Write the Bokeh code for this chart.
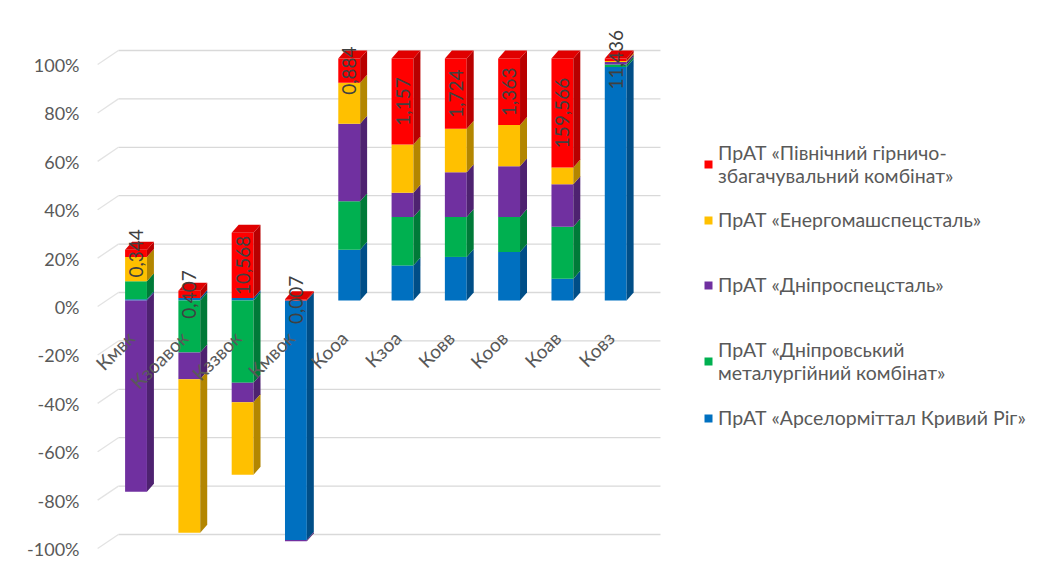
import math
from bokeh.plotting import figure
from bokeh.models import (Range1d, LinearAxis, FixedTicker,
                          PrintfTickFormatter, Legend, LegendItem)
from bokeh.core.properties import value
from bokeh.embed import file_html
from bokeh.resources import INLINE

# ---------------- data (shares of 100 %) ----------------
categories = ["Кмвк", "Кзоавок", "Кззвок", "Кмвок", "Кооа", "Кзоа", "Ковв", "Коов", "Коав", "Ковз"]

arcelor = [0.5, 1.0, 1.0, -99.0, 21.0, 14.5, 18.0, 20.0, 9.0, 96.5]
dmk = [7.5, -21.5, -34.0, 0.0, 20.0, 20.0, 16.5, 14.5, 21.5, 1.0]
dniprospetsstal = [-79.0, -11.0, -8.0, -0.5, 32.0, 10.0, 18.5, 21.0, 17.5, 1.0]
energomash = [10.0, -63.5, -30.0, 0.0, 17.0, 20.0, 18.0, 17.0, 7.0, 0.5]
pivnichnyi = [3.0, 3.0, 27.0, 0.5, 10.0, 35.5, 29.0, 27.5, 45.0, 1.0]

red_labels = ["0,344", "0,407", "10,568", "0,007", "0,884", "1,157", "1,724", "1,363", "159,566", "11,436"]

series_names = [
    "ПрАТ «Арселорміттал Кривий Ріг»",
    "ПрАТ «Дніпровський\nметалургійний комбінат»",
    "ПрАТ «Дніпроспецсталь»",
    "ПрАТ «Енергомашспецсталь»",
    "ПрАТ «Північний гірничо-\nзбагачувальний комбінат»",
]
y_ticks = [-100, -80, -60, -40, -20, 0, 20, 40, 60, 80, 100]

# ---------------- style ----------------
front_colors = ["#0070C0", "#00B050", "#7030A0", "#FFC000", "#FF0000"]
side_colors = ["#004E87", "#007A38", "#4E2270", "#B38600", "#B80000"]
top_colors = ["#005FA3", "#009A45", "#602890", "#E6AD00", "#E00000"]
FONT = "Lato"
BAR_W = 0.41
DX = 0.131   # 3-D depth, x (category units)
DY = 3.3     # 3-D depth, y (percent units)

series = [arcelor, dmk, dniprospetsstal, energomash, pivnichnyi]
n = len(categories)
xs_idx = list(range(n))

p = figure(width=1029, height=564,
           x_range=Range1d(-0.854, 16.764), y_range=Range1d(-105.37, 115.70),
           output_backend="svg", toolbar_location=None,
           x_axis_location=None, y_axis_location=None,
           min_border_left=90, min_border_right=0, min_border_top=20, min_border_bottom=9)
p.outline_line_color = None
p.background_fill_color = "white"
for g in p.grid:
    g.visible = False

# y axis (labels sit slightly below the front-face positions, as in 3-D Excel charts)
p.extra_y_ranges = {"lab": Range1d(-105.37 + 2.69, 115.70 + 2.69)}
yax = LinearAxis(y_range_name="lab", ticker=FixedTicker(ticks=y_ticks),
                 formatter=PrintfTickFormatter(format="%d%%"))
yax.axis_line_color = None
yax.major_tick_line_color = None
yax.minor_tick_line_color = None
yax.major_label_standoff = 5
yax.major_label_text_font = FONT
yax.major_label_text_font_size = "18px"
yax.major_label_text_color = "#595959"
p.add_layout(yax, "left")

# back-wall gridlines + floor diagonals
grid_y = [t + DY for t in y_ticks]
p.segment(x0=[-0.33] * len(y_ticks), y0=grid_y, x1=[9.84] * len(y_ticks), y1=grid_y,
          line_color="#d9d9d9", line_width=1.3)
p.segment(x0=[-0.72] * len(y_ticks), y0=[t - 2.5 for t in y_ticks],
          x1=[-0.33] * len(y_ticks), y1=grid_y, line_color="#e3e3e3", line_width=1.3)

# stacking
pos = [0.0] * n
neg = [0.0] * n
segs = []
for s, vals in enumerate(series):
    rows = []
    for i, v in enumerate(vals):
        if v >= 0:
            b, t = pos[i], pos[i] + v
            pos[i] = t
        else:
            b, t = neg[i] + v, neg[i]
            neg[i] = b
        rows.append((i, b, t))
    segs.append(rows)

front_renderers = []
for s, rows in enumerate(segs):
    left = [i - BAR_W / 2 for i, b, t in rows]
    right = [i + BAR_W / 2 for i, b, t in rows]
    bottom = [b for i, b, t in rows]
    top = [t for i, b, t in rows]
    r = p.quad(left=left, right=right, bottom=bottom, top=top,
               fill_color=front_colors[s], line_color=None)
    front_renderers.append(r)
    side_xs = [[i + BAR_W / 2, i + BAR_W / 2 + DX, i + BAR_W / 2 + DX, i + BAR_W / 2] for i, b, t in rows]
    side_ys = [[b, b + DY, t + DY, t] for i, b, t in rows]
    p.patches(xs=side_xs, ys=side_ys, fill_color=side_colors[s], line_color=None)

# top faces of the top-most positive segment of each bar
top_xs, top_ys, top_c = [], [], []
for i in range(n):
    best = None
    for s, rows in enumerate(segs):
        _, b, t = rows[i]
        if t > b and abs(t - pos[i]) < 1e-9:
            best = (s, t)
    if best is not None:
        s, t = best
        top_xs.append([i - BAR_W / 2, i - BAR_W / 2 + DX, i + BAR_W / 2 + DX, i + BAR_W / 2])
        top_ys.append([t, t + DY, t + DY, t])
        top_c.append(top_colors[s])
p.patches(xs=top_xs, ys=top_ys, fill_color=top_c, line_color=None)

# data labels of the red series
lab_y = [(b + t) / 2 for i, b, t in segs[4]]
p.text(x=xs_idx, y=lab_y, text=red_labels, angle=math.pi / 2,
       text_align="center", text_baseline="middle",
       text_font=value(FONT), text_font_size="19px", text_color="#404040")

# category labels along the zero line
p.text(x=xs_idx, y=[0] * n, text=categories, angle=math.pi / 4,
       x_offset=-5, y_offset=34, text_align="right", text_baseline="middle",
       text_font=value(FONT), text_font_size="19px", text_color="#595959")

# legend: one entry per box so the uneven Excel spacing can be kept
order = [4, 3, 2, 1, 0]
legend_pos = {4: (613, 368), 3: (613, 324), 2: (613, 259), 1: (613, 171), 0: (613, 126)}
for s in order:
    lg = Legend(items=[LegendItem(label=series_names[s], renderers=[front_renderers[s]])],
                location=legend_pos[s])
    lg.label_text_font = FONT
    lg.label_text_font_size = "19.5px"
    lg.label_text_line_height = 1.6
    lg.label_text_color = "#595959"
    lg.glyph_width = 10
    lg.glyph_height = 10
    lg.padding = 0
    lg.margin = 0
    lg.label_standoff = 5
    lg.border_line_color = None
    lg.background_fill_alpha = 0
    p.add_layout(lg)

open("out.html", "w").write(file_html(p, INLINE))
